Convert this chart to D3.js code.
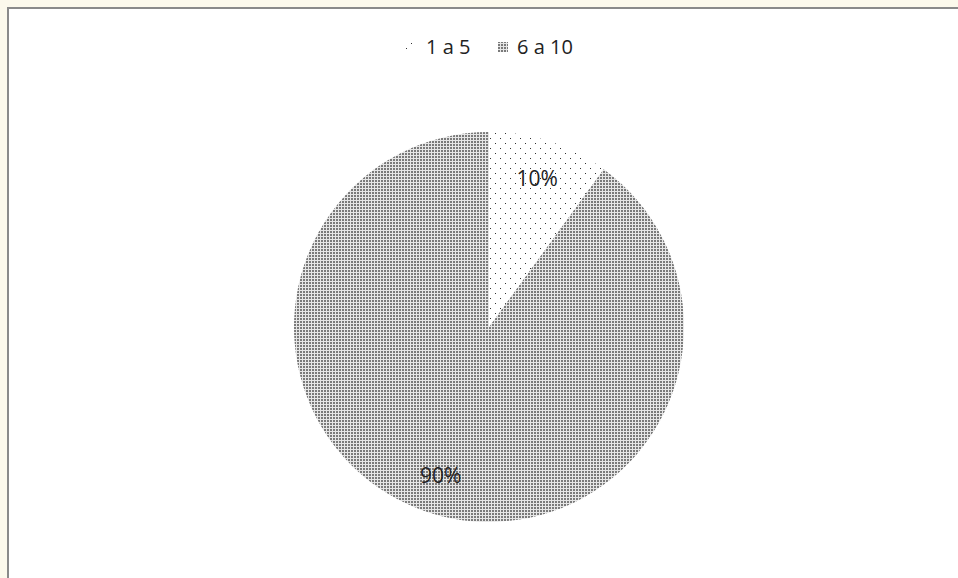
<!DOCTYPE html>
<html><head><meta charset="utf-8">
<script src="https://cdn.jsdelivr.net/npm/d3@7"></script>
<style>
html,body{margin:0;padding:0;background:#fcf9ec;}
svg{display:block;}
</style></head>
<body>
<script>
const categories = ["1 a 5", "6 a 10"];
const values = [10, 90];
const labels = ["10%", "90%"];

const W = 958, H = 578;
const svg = d3.select("body").append("svg").attr("width", W).attr("height", H);
const defs = svg.append("defs");

// sparse dots pattern
const p1 = defs.append("pattern").attr("id","pat0").attr("patternUnits","userSpaceOnUse")
  .attr("width",10).attr("height",10);
p1.append("rect").attr("width",10).attr("height",10).attr("fill","#fff");
p1.append("rect").attr("x",1).attr("y",1).attr("width",1).attr("height",1).attr("fill","#333");
p1.append("rect").attr("x",6).attr("y",6).attr("width",1).attr("height",1).attr("fill","#333");

// dense pattern
const p2 = defs.append("pattern").attr("id","pat1").attr("patternUnits","userSpaceOnUse")
  .attr("width",3).attr("height",3);
p2.append("rect").attr("width",3).attr("height",3).attr("fill","#e6e6e6");
p2.append("rect").attr("x",0).attr("y",0).attr("width",2).attr("height",2).attr("fill","#7a7a7a");

// chart area
svg.append("rect").attr("x",8).attr("y",8).attr("width",W).attr("height",H)
  .attr("fill","#fff").attr("stroke","#8a8a8a").attr("stroke-width",2);

const cx = 489, cy = 327, r = 195;
const pie = d3.pie().sort(null).value(d => d)(values);
const arc = d3.arc().innerRadius(0).outerRadius(r);
const g = svg.append("g").attr("transform",`translate(${cx},${cy})`);
g.selectAll("path").data(pie).join("path")
  .attr("d", arc).attr("fill",(d,i)=>`url(#pat${i})`);

const labelArc = d3.arc().innerRadius(r*0.8).outerRadius(r*0.8);
g.selectAll("text").data(pie).join("text")
  .attr("transform", d => { const c = labelArc.centroid(d); return `translate(${c[0]},${c[1]})`; })
  .attr("text-anchor","middle").attr("dy","0.35em")
  .style("font-family","'Open Sans', 'Liberation Sans', sans-serif").style("font-size","21px")
  .attr("fill","#222")
  .text((d,i)=>labels[i]);

// legend
const leg = svg.append("g").attr("transform","translate(405,47)");
const items = [{x:0, tx:21}, {x:93, tx:112}];
categories.forEach((c,i)=>{
  leg.append("rect").attr("x",items[i].x).attr("y",-5).attr("width",10).attr("height",10)
    .attr("fill",`url(#pat${i})`);
  leg.append("text").attr("x",items[i].tx).attr("y",0).attr("dy","0.35em")
    .style("font-family","'Open Sans', 'Liberation Sans', sans-serif").style("font-size","20px")
    .attr("fill","#222").text(c);
});
</script>
</body></html>
